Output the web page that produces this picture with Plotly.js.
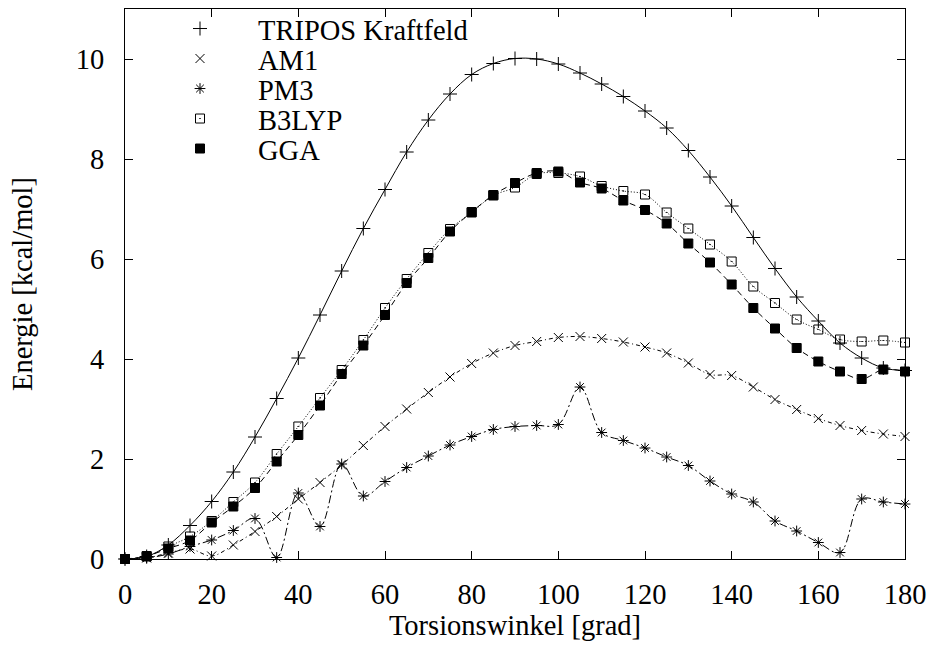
<!DOCTYPE html>
<html>
<head>
<meta charset="utf-8">
<script src="https://cdn.plot.ly/plotly-3.0.1.min.js"></script>
<style>html,body{margin:0;padding:0;background:#fff}#chart{width:932px;height:647px}</style>
</head>
<body>
<div id="chart"></div>
<script>
// Torsion angle in degrees
var angles = [0,5,10,15,20,25,30,35,40,45,50,55,60,65,70,75,80,85,90,95,100,105,110,115,120,125,130,135,140,145,150,155,160,165,170,175,180];
// Energies in kcal/mol
var tripos = [0,0.05,0.28,0.67,1.15,1.74,2.44,3.21,4.02,4.88,5.76,6.61,7.39,8.14,8.78,9.30,9.69,9.91,10.01,10.0,9.90,9.72,9.50,9.25,8.96,8.62,8.17,7.64,7.06,6.43,5.81,5.24,4.76,4.32,4.02,3.82,3.77];
var am1 = [0,0.02,0.12,0.2,0.06,0.28,0.55,0.85,1.2,1.53,1.88,2.27,2.65,3.0,3.33,3.64,3.91,4.12,4.27,4.35,4.43,4.45,4.41,4.34,4.24,4.12,3.92,3.69,3.67,3.44,3.19,2.99,2.81,2.67,2.57,2.50,2.45];
var pm3 = [0,0.02,0.1,0.25,0.38,0.57,0.81,0.03,1.32,0.65,1.9,1.26,1.55,1.83,2.06,2.28,2.45,2.59,2.65,2.67,2.69,3.44,2.53,2.37,2.22,2.04,1.87,1.56,1.30,1.14,0.76,0.56,0.33,0.13,1.2,1.14,1.10];
var b3lyp = [0,0.05,0.25,0.45,0.76,1.14,1.53,2.10,2.65,3.22,3.78,4.38,5.02,5.6,6.12,6.6,6.93,7.27,7.43,7.7,7.72,7.65,7.46,7.36,7.29,6.93,6.61,6.29,5.95,5.45,5.12,4.79,4.59,4.39,4.35,4.37,4.33];
var gga = [0,0.06,0.21,0.37,0.73,1.05,1.42,1.95,2.48,3.07,3.7,4.27,4.88,5.52,6.02,6.55,6.94,7.28,7.52,7.72,7.75,7.53,7.41,7.17,6.98,6.71,6.31,5.93,5.49,5.02,4.61,4.22,3.95,3.75,3.60,3.79,3.75];

var names = ['TRIPOS Kraftfeld','AM1','PM3','B3LYP','GGA'];
var xTicks = [0,20,40,60,80,100,120,140,160,180];
var yTicks = [0,2,4,6,8,10];

var FONT = '"Liberation Serif", serif';
var FS = 28.5;

var series = [
  {y: tripos, dash: 'solid', sym: 'cross-thin', size: 10},
  {y: am1, dash: '4px,3px,1px,3px', sym: 'x-thin', size: 9},
  {y: pm3, dash: '8px,3px,2px,3px', sym: 'asterisk', size: 9},
  {y: b3lyp, dash: '1px,2px', sym: 'square-open-dot', size: 9},
  {y: gga, dash: '6px,4px', sym: 'square', size: 9}
];

var traces = [];
series.forEach(function(s, i){
  traces.push({
    x: angles, y: s.y, mode: 'lines', type: 'scatter', showlegend: false,
    line: {color: '#000', width: 1, shape: 'spline', smoothing: 1, dash: s.dash},
    hoverinfo: 'skip'
  });
});
series.forEach(function(s, i){
  traces.push({
    x: angles, y: s.y, mode: 'markers', type: 'scatter', name: names[i],
    legend: i === 0 ? 'legend' : 'legend' + (i + 1),
    cliponaxis: false,
    marker: {symbol: s.sym, size: s.size, color: '#000',
             line: {color: '#000', width: 1}}
  });
});

function leg(row){
  return {
    xref: 'paper', yref: 'paper',
    x: (142 - 125)/780, y: (559 - (29 + row*30))/550,
    xanchor: 'left', yanchor: 'middle',
    bgcolor: 'rgba(0,0,0,0)', borderwidth: 0,
    itemwidth: 106,
    font: {family: FONT, size: FS, color: '#000'}
  };
}

var layout = {
  width: 932, height: 647,
  margin: {l: 125, r: 27, t: 9, b: 88, autoexpand: false},
  paper_bgcolor: '#fff', plot_bgcolor: '#fff',
  font: {family: FONT, size: FS, color: '#000'},
  showlegend: true,
  legend: leg(0), legend2: leg(1), legend3: leg(2), legend4: leg(3), legend5: leg(4),
  xaxis: {
    range: [0, 180], tickvals: xTicks, ticktext: xTicks.map(String),
    ticks: 'inside', ticklen: 8, tickwidth: 1, tickcolor: '#000',
    showline: true, linecolor: '#000', linewidth: 1, mirror: 'ticks',
    showgrid: false, zeroline: false, automargin: false,
    tickfont: {family: FONT, size: FS, color: '#000'},
    ticklabelstandoff: 10,
    title: {text: 'Torsionswinkel [grad]', font: {family: FONT, size: FS, color: '#000'}, standoff: 0}
  },
  yaxis: {
    range: [0, 11], tickvals: yTicks, ticktext: yTicks.map(String),
    ticks: 'inside', ticklen: 8, tickwidth: 1, tickcolor: '#000',
    showline: true, linecolor: '#000', linewidth: 1, mirror: 'ticks',
    showgrid: false, zeroline: false, automargin: false,
    tickfont: {family: FONT, size: FS, color: '#000'},
    ticklabelstandoff: 14,
    title: {text: 'Energie [kcal/mol]', font: {family: FONT, size: FS, color: '#000'}, standoff: 34}
  }
};

Plotly.newPlot('chart', traces, layout, {staticPlot: true, displayModeBar: false});
</script>
</body>
</html>
